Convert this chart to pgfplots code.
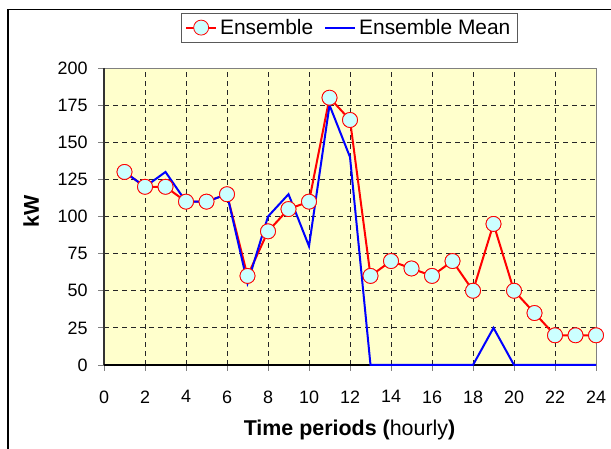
\documentclass[border=0pt]{standalone}
\usepackage{fontspec}
\setmainfont{Liberation Sans}
\usepackage{pgfplots}
\pgfplotsset{compat=1.18}
\definecolor{bgyellow}{RGB}{255,255,204}
\definecolor{mkcyan}{RGB}{204,255,255}
\begin{document}
\begin{tikzpicture}[x=1bp,y=1bp]
\useasboundingbox (0,0) rectangle (611,449);
\draw[black, line width=1.2bp] (8,0) -- (8,439.5) -- (611,439.5);
\begin{axis}[
  at={(104bp,84bp)}, anchor=south west, scale only axis,
  width=492bp, height=297bp,
  xmin=0, xmax=24, ymin=0, ymax=200,
  clip=false,
  xtick={0,2,...,24}, ytick={0,25,...,200},
  axis background/.style={fill=bgyellow},
  grid=major,
  major grid style={black!85, dash pattern=on 5bp off 4bp, line width=0.8bp},
  tick align=outside, tick pos=left, major tick length=6bp,
  tick style={gray, line width=0.9bp},
  axis line style={gray, line width=0.8bp},
  /pgf/number format/assume math mode=true,
  ticklabel style={font=\fontsize{18}{18}\selectfont},
  xticklabel style={yshift=-16bp},
  yticklabel style={xshift=-7bp},
  xlabel={\textbf{Time periods (}hourly\textbf{)}},
  ylabel={\textbf{kW}},
  label style={font=\fontsize{21.5}{22}\selectfont},
  x label style={at={(axis description cs:0.499,-0.219)}, anchor=center},
  y label style={at={(axis description cs:-0.148,0.517)}, anchor=center},
  legend columns=2,
  legend style={at={(0.4985,1.136)}, anchor=center,
    draw=gray!70!black, line width=0.8bp, fill=white,
    font=\fontsize{21}{22}\selectfont, inner xsep=4bp, inner ysep=4bp,
    /tikz/every even column/.append style={column sep=8bp},
    nodes={inner xsep=3bp}},
  legend image code/.code={\draw[mark repeat=2,mark phase=2,#1] plot coordinates {(0bp,0bp) (15bp,0bp) (30bp,0bp)};},
]
\draw[black!80, line width=1.8bp] (rel axis cs:0,1) -- (rel axis cs:0,0);
\draw[black, line width=2.2bp] (rel axis cs:0,0) -- (rel axis cs:1,0);
\addplot[red, line width=2bp, mark=*, mark size=7.5bp,
  mark options={fill=mkcyan, draw=red, line width=0.8bp}] coordinates {
(1,130) (2,120) (3,120) (4,110) (5,110) (6,115) (7,60) (8,90) (9,105) (10,110)
(11,180) (12,165) (13,60) (14,70) (15,65) (16,60) (17,70) (18,50) (19,95) (20,50)
(21,35) (22,20) (23,20) (24,20)};
\addlegendentry{Ensemble}
\addplot[blue, line width=2bp, no marks] coordinates {
(1,130) (2,120) (3,130) (4,110) (5,110) (6,115) (7,55) (8,100) (9,115) (10,80)
(11,175) (12,140) (13,0) (14,0) (15,0) (16,0) (17,0) (18,0) (19,25) (20,0)
(21,0) (22,0) (23,0) (24,0)};
\addlegendentry{Ensemble Mean}
\addplot[only marks, forget plot, mark=*, mark size=7.5bp,
  mark options={fill=mkcyan, draw=red, line width=0.8bp}] coordinates {
(1,130) (2,120) (3,120) (4,110) (5,110) (6,115) (7,60) (8,90) (9,105) (10,110)
(11,180) (12,165) (13,60) (14,70) (15,65) (16,60) (17,70) (18,50) (19,95) (20,50)
(21,35) (22,20) (23,20) (24,20)};
\end{axis}
\end{tikzpicture}
\end{document}
